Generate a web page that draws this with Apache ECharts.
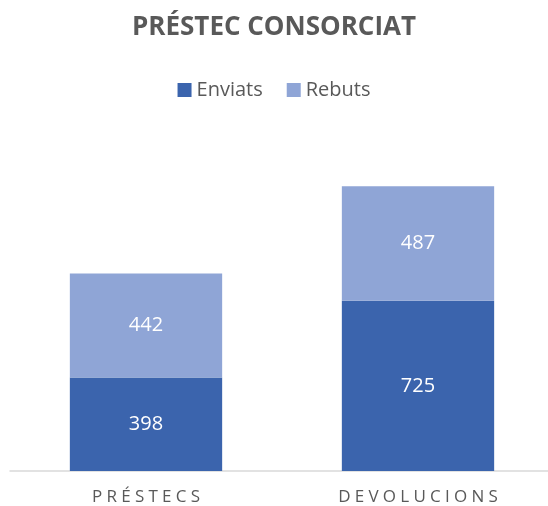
<!DOCTYPE html>
<html>
<head>
<meta charset="utf-8">
<script src="https://cdn.jsdelivr.net/npm/echarts@6/dist/echarts.min.js"></script>
<style>
  html, body { margin: 0; padding: 0; background: #fff; }
  #main { width: 548px; height: 506px; }
</style>
</head>
<body>
<div id="main"></div>
<script>
// dades del gràfic
const categories = ['PRÉSTECS', 'DEVOLUCIONS'];
const enviats = [398, 725];
const rebuts = [442, 487];

const chart = echarts.init(document.getElementById('main'), null, { renderer: 'canvas' });

// espaiat entre lletres per a les etiquetes de l'eix
function spaced(s) {
  return s.split('').join('\u2005');
}

const labelStyle = {
  show: true,
  position: 'inside',
  color: '#ffffff',
  fontSize: 20,
  fontFamily: 'Open Sans'
};

const option = {
  animation: false,
  title: {
    text: 'PRÉSTEC CONSORCIAT',
    left: 'center',
    top: 10,
    textStyle: {
      fontFamily: 'Open Sans',
      fontWeight: 'bold',
      fontSize: 26,
      color: '#595959'
    }
  },
  legend: {
    data: ['Enviats', 'Rebuts'],
    top: 75,
    left: 'center',
    itemWidth: 14,
    itemHeight: 14,
    itemGap: 24,
    icon: 'rect',
    textStyle: {
      fontFamily: 'Open Sans',
      fontSize: 20,
      color: '#595959'
    }
  },
  grid: {
    left: 10,
    right: -6,
    top: 142,
    bottom: 35,
    outerBoundsMode: 'none'
  },
  xAxis: {
    type: 'category',
    data: categories,
    axisTick: { show: false },
    axisLine: { lineStyle: { color: '#d9d9d9', width: 1.5 } },
    axisLabel: {
      margin: 18,
      fontFamily: 'Open Sans',
      fontSize: 17,
      color: '#595959',
      formatter: spaced
    }
  },
  yAxis: {
    type: 'value',
    min: 0,
    max: 1400,
    show: false,
    splitLine: { show: false }
  },
  series: [
    {
      name: 'Enviats',
      type: 'bar',
      stack: 'total',
      data: enviats,
      barCategoryGap: '44%',
      itemStyle: { color: '#3B64AD' },
      label: labelStyle
    },
    {
      name: 'Rebuts',
      type: 'bar',
      stack: 'total',
      data: rebuts,
      barCategoryGap: '44%',
      itemStyle: { color: '#8FA5D6' },
      label: labelStyle
    }
  ]
};

chart.setOption(option);
</script>
</body>
</html>
